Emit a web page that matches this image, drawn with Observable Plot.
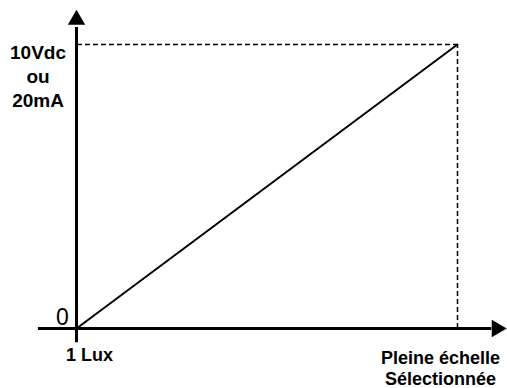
<!DOCTYPE html>
<html><head><meta charset="utf-8">
<script src="https://cdn.jsdelivr.net/npm/d3@7"></script>
<script src="https://cdn.jsdelivr.net/npm/@observablehq/plot@0.6"></script>
<style>body{margin:0;background:#fff}</style>
</head><body><div id="chart"></div>
<script>
// Linear response: 1 Lux -> 0, selected full scale -> 10Vdc / 20mA
const lightLevels = [0, 1];
const outputLevels = [0, 1];
const xTickLabels = ["1 Lux", "Pleine échelle\nSélectionnée"];
const yTickLabels = ["0", "10Vdc\nou\n20mA"];
// axis extents (in data units) and arrow-head positions
const xAxisExtent = [-0.1, 1.09];
const yAxisExtent = [-0.05, 1.06];
const xArrowAt = 1.103;
const yArrowAt = 1.087;

const lineData = lightLevels.map((x, i) => ({x, y: outputLevels[i]}));
const font = "Liberation Sans, Arial, sans-serif";

const chart = Plot.plot({
  width: 507,
  height: 388,
  margin: 0,
  x: {domain: [0, 1], range: [76, 457], axis: null},
  y: {domain: [0, 1], range: [328, 44], axis: null},
  style: {background: "white", fontFamily: font},
  marks: [
    // dashed guides to full scale
    Plot.ruleY([outputLevels[1]], {x1: lightLevels[0], x2: lightLevels[1], stroke: "black", strokeWidth: 1.5, strokeDasharray: "5,3", strokeDashoffset: -1}),
    Plot.ruleX([lightLevels[1]], {y1: outputLevels[0], y2: outputLevels[1], stroke: "black", strokeWidth: 1.5, strokeDasharray: "5,3"}),
    // axes
    Plot.ruleY([0], {x1: xAxisExtent[0], x2: xAxisExtent[1], stroke: "black", strokeWidth: 3}),
    Plot.ruleX([0], {y1: yAxisExtent[0], y2: yAxisExtent[1], stroke: "black", strokeWidth: 3}),
    Plot.dot([{x: xArrowAt, y: 0, a: 90}, {x: 0, y: yArrowAt, a: 0}], {x: "x", y: "y", rotate: "a", symbol: "triangle", r: 6.43, fill: "black", stroke: "none"}),
    // response line
    Plot.line(lineData, {x: "x", y: "y", stroke: "black", strokeWidth: 2}),
    // labels
    Plot.text([yTickLabels[1]], {x: lightLevels[0], y: outputLevels[1], text: d => d, dx: -38.5, dy: -2, lineAnchor: "top", textAnchor: "middle", fontSize: 19, fontWeight: "bold", lineHeight: 1.25, fontFamily: font, fill: "black"}),
    Plot.text([yTickLabels[0]], {x: lightLevels[0], y: outputLevels[0], text: d => d, dx: -14, dy: -20, lineAnchor: "top", textAnchor: "middle", fontSize: 23, fontFamily: font, fill: "black"}),
    Plot.text([xTickLabels[0]], {x: lightLevels[0], y: outputLevels[0], text: d => d, dx: 13, dy: 20, lineAnchor: "top", textAnchor: "middle", fontSize: 18, fontWeight: "bold", fontFamily: font, fill: "black"}),
    Plot.text([xTickLabels[1]], {x: lightLevels[1], y: outputLevels[0], text: d => d, dx: -17, dy: 20, lineAnchor: "top", textAnchor: "middle", fontSize: 18, fontWeight: "bold", lineHeight: 1.2, fontFamily: font, fill: "black"})
  ]
});
document.getElementById("chart").appendChild(chart);
</script>
</body></html>
